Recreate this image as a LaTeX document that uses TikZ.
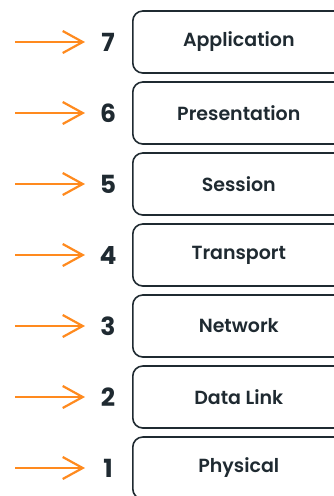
\documentclass[tikz,border=0pt]{standalone}
\usepackage{fontspec}
\setmainfont{Poppins}
\IfFontExistsTF{Poppins SemiBold}
  {\newfontfamily\labelfont{Poppins SemiBold}}
  {\IfFontExistsTF{Poppins Medium}
    {\newfontfamily\labelfont{Poppins Medium}}
    {\newfontfamily\labelfont{Poppins}}}
\usetikzlibrary{arrows.meta}
\definecolor{ink}{HTML}{1F2A31}
\definecolor{accent}{HTML}{FF8A1E}
\begin{document}
\begin{tikzpicture}[x=1pt,y=-1pt,
  layer/.style={draw=ink,line width=1.6pt,rounded corners=10pt,minimum width=212pt,
    minimum height=62pt,anchor=west,inner sep=0pt,font=\labelfont\fontsize{19}{21}\selectfont,text=ink},
  num/.style={font=\fontsize{25}{28}\selectfont\bfseries,text=ink,inner sep=0pt,anchor=center},
  pointer/.style={draw=accent,line width=2.2pt,-{Straight Barb[length=20pt,width=22pt,line width=2.2pt]}}]
\useasboundingbox (0,0) rectangle (333,496);
\foreach \n/\lab [count=\i from 0] in {7/Application,6/Presentation,5/Session,4/Transport,3/Network,2/Data Link,1/Physical}{
  \node[layer] (b\n) at (132,{42+71*\i}) {\raisebox{-1.5pt}{\lab}};
  \node[num] (n\n) at (108,{42+71*\i}) {\n};
  \coordinate (s\n) at (15,{42+71*\i});
  \coordinate (e\n) at (85,{42+71*\i});
  \draw[pointer] (s\n) -- (e\n);
}
\end{tikzpicture}
\end{document}
